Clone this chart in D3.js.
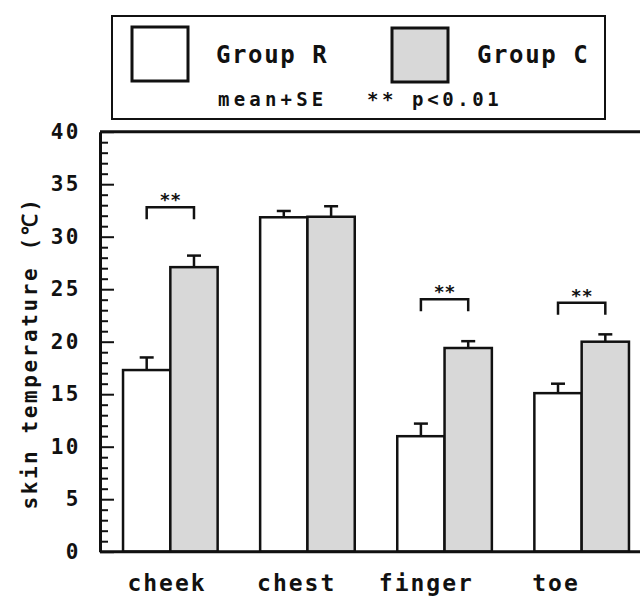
<!DOCTYPE html>
<html>
<head>
<meta charset="utf-8">
<script src="https://cdn.jsdelivr.net/npm/d3@7"></script>
<style>
  html, body { margin: 0; padding: 0; background: #fff; }
  svg { display: block; }
  text { font-family: "DejaVu Sans Mono", monospace; fill: #111; }
</style>
</head>
<body>
<svg id="chart" width="640" height="599"></svg>
<script>
// ---- data ----
const categories = ["cheek", "chest", "finger", "toe"];
const groups = ["Group R", "Group C"];
const meanR = [17.3, 31.85, 11.0, 15.1];
const meanC = [27.1, 31.9, 19.4, 20.0];
const seR = [1.2, 0.6, 1.2, 0.9];
const seC = [1.1, 1.0, 0.65, 0.7];
const sigCategories = ["cheek", "finger", "toe"];
const sigLevels = [32.8, 24.05, 23.7];
const sigLabel = "**";
const yTicks = [0, 5, 10, 15, 20, 25, 30, 35, 40];
const yLabel = "skin temperature (℃)";
const legendNote1 = "mean+SE";
const legendNote2 = "** p<0.01";

// ---- layout ----
const svg = d3.select("#chart");
const x0 = 100, yTop = 131.7, yBot = 551.7;
const y = d3.scaleLinear().domain([0, 40]).range([yBot, yTop]);
const x = d3.scaleBand().domain(categories).range([x0, 652]).paddingInner(0.31).paddingOuter(0.168);
const xs = d3.scaleBand().domain(groups).range([0, x.bandwidth()]);
const xLab = d3.scalePoint().domain(categories).range([167, 556]);
const fills = {"Group R": "#ffffff", "Group C": "#d8d8d8"};

const rows = [];
categories.forEach((c, i) => {
  rows.push({cat: c, g: "Group R", v: meanR[i], se: seR[i]});
  rows.push({cat: c, g: "Group C", v: meanC[i], se: seC[i]});
});

// bars
svg.append("g").selectAll("rect").data(rows).join("rect")
  .attr("x", d => x(d.cat) + xs(d.g))
  .attr("y", d => y(d.v))
  .attr("width", xs.bandwidth())
  .attr("height", d => y(0) - y(d.v))
  .attr("fill", d => fills[d.g])
  .attr("stroke", "#111").attr("stroke-width", 2.5);

// error bars
const eb = svg.append("g").attr("stroke", "#111").attr("stroke-width", 2.5);
rows.forEach(d => {
  const cx = x(d.cat) + xs(d.g) + xs.bandwidth() / 2;
  eb.append("line").attr("x1", cx).attr("x2", cx).attr("y1", y(d.v)).attr("y2", y(d.v + d.se));
  eb.append("line").attr("x1", cx - 7).attr("x2", cx + 7).attr("y1", y(d.v + d.se)).attr("y2", y(d.v + d.se));
});

// significance brackets
const sg = svg.append("g");
sigCategories.forEach((c, i) => {
  const xa = x(c) + xs("Group R") + xs.bandwidth() / 2;
  const xb = x(c) + xs("Group C") + xs.bandwidth() / 2;
  const yy = y(sigLevels[i]);
  sg.append("path")
    .attr("d", `M${xa},${yy + 12}V${yy}H${xb}V${yy + 12}`)
    .attr("fill", "none").attr("stroke", "#111").attr("stroke-width", 2.5);
  sg.append("text").attr("x", (xa + xb) / 2).attr("y", yy - 1)
    .attr("text-anchor", "middle").attr("font-size", 18).attr("font-weight", "bold")
    .text(sigLabel);
});

// axes
const yMajor = d3.axisLeft(y).tickValues(yTicks).tickSize(-14).tickSizeOuter(0).tickPadding(19);
const gy = svg.append("g").attr("transform", `translate(${x0},0)`).call(yMajor);
gy.select(".domain").attr("stroke", "#111").attr("stroke-width", 3);
gy.selectAll(".tick line").attr("stroke", "#111").attr("stroke-width", 2);
gy.selectAll(".tick text").attr("font-family", "DejaVu Sans Mono").attr("font-size", 21)
  .attr("font-weight", "bold").attr("letter-spacing", 2.5).attr("fill", "#111");

const minorVals = d3.range(0, 41).filter(v => v % 5 !== 0);
const yMinor = d3.axisLeft(y).tickValues(minorVals).tickSize(-8).tickFormat("");
const gm = svg.append("g").attr("transform", `translate(${x0},0)`).call(yMinor);
gm.select(".domain").remove();
gm.selectAll(".tick line").attr("stroke", "#111").attr("stroke-width", 2);

// frame: top and bottom lines
svg.append("line").attr("x1", x0).attr("x2", 640).attr("y1", y(40)).attr("y2", y(40))
  .attr("stroke", "#111").attr("stroke-width", 3);
svg.append("line").attr("x1", x0).attr("x2", 640).attr("y1", y(0)).attr("y2", y(0))
  .attr("stroke", "#111").attr("stroke-width", 3);

// category labels
svg.append("g").selectAll("text").data(categories).join("text")
  .attr("x", d => xLab(d)).attr("y", 591)
  .attr("text-anchor", "middle").attr("font-size", 23).attr("font-weight", "bold")
  .attr("letter-spacing", 2)
  .text(d => d);

// y label
svg.append("text")
  .attr("transform", "translate(37,353) rotate(-90)")
  .attr("text-anchor", "middle").attr("font-size", 21).attr("font-weight", "bold")
  .attr("letter-spacing", 2.6)
  .text(yLabel);

// legend
const lg = svg.append("g");
lg.append("rect").attr("x", 112).attr("y", 16).attr("width", 493).attr("height", 103)
  .attr("fill", "#fff").attr("stroke", "#111").attr("stroke-width", 2);
const legendPos = [{sx: 132, sy: 27, tx: 216}, {sx: 392, sy: 28, tx: 477}];
groups.forEach((g, i) => {
  const p = legendPos[i];
  lg.append("rect").attr("x", p.sx).attr("y", p.sy).attr("width", 56).attr("height", 54)
    .attr("fill", fills[g]).attr("stroke", "#111").attr("stroke-width", 3);
  lg.append("text").attr("x", p.tx).attr("y", 63).attr("font-size", 24)
    .attr("font-weight", "bold").attr("letter-spacing", 1.6).text(g);
});
lg.append("text").attr("x", 218).attr("y", 106).attr("font-size", 19)
  .attr("font-weight", "bold").attr("letter-spacing", 4.2).text(legendNote1);
lg.append("text").attr("x", 367).attr("y", 106).attr("font-size", 19)
  .attr("font-weight", "bold").attr("letter-spacing", 3.6).text(legendNote2);
</script>
</body>
</html>
